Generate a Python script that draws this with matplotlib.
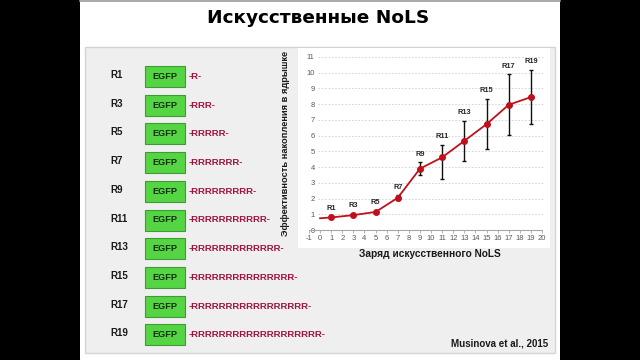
import matplotlib.pyplot as plt
from matplotlib.patches import Rectangle

plt.rcParams['font.family'] = ['Liberation Sans', 'DejaVu Sans']
plt.rcParams['axes.unicode_minus'] = False

# data
row_labels = ['R1', 'R3', 'R5', 'R7', 'R9', 'R11', 'R13', 'R15', 'R17', 'R19']
charges = [1, 3, 5, 7, 9, 11, 13, 15, 17, 19]
efficiency = [0.8, 0.95, 1.15, 2.05, 3.9, 4.62, 5.67, 6.73, 7.96, 8.45]
err_low = [0.05, 0.05, 0.08, 0.15, 0.4, 1.35, 1.27, 1.57, 1.95, 1.7]
err_high = [0.05, 0.05, 0.08, 0.15, 0.4, 0.8, 1.27, 1.58, 1.93, 1.7]
line_start = (0, 0.75)
x_ticks = list(range(-1, 21))
y_ticks = list(range(0, 12))

fig = plt.figure(figsize=(6.4, 3.6), dpi=100, facecolor='black')

# slide background in pixel coords
bg = fig.add_axes([0, 0, 1, 1])
bg.set_xlim(0, 640)
bg.set_ylim(360, 0)
bg.axis('off')
bg.add_patch(Rectangle((80, 0), 480, 360, facecolor='white', edgecolor='none'))
bg.plot([80, 560], [1, 1], color='#9a9a9a', lw=1.2)
bg.add_patch(Rectangle((85, 47), 470, 306, facecolor='#efefef', edgecolor='#d4d4d4', lw=1))
bg.add_patch(Rectangle((298, 48), 252, 200, facecolor='white', edgecolor='none'))

bg.text(318, 18, 'Искусственные NoLS', fontsize=13.3, fontweight='bold',
        family=['DejaVu Sans'], ha='center', va='center')

# constructs list
for i, lab in enumerate(row_labels):
    y = 75 + i * 28.7
    n = charges[i]
    bg.text(110, y, lab, fontsize=7, fontweight='bold', ha='left', va='center', color='#1a1a1a')
    bg.add_patch(Rectangle((145, y - 9), 40, 21, facecolor='#55d544', edgecolor='#3a9e30', lw=0.8))
    bg.text(165, y + 1.5, 'EGFP', fontsize=6.6, fontweight='bold', ha='center', va='center', color='#103010')
    bg.text(189, y + 1.5, '-' + 'R' * n + '-', fontsize=6.8, fontweight='bold',
            ha='left', va='center', color='#a0143c')

bg.text(286, 143, 'Эффективность накопления в ядрышке', rotation=90, fontsize=6.7,
        fontweight='bold', ha='center', va='center', color='#1a1a1a')
bg.text(430, 254, 'Заряд искусственного NoLS', fontsize=7.3, fontweight='bold',
        ha='center', va='center', color='#1a1a1a')
bg.text(548, 344, 'Musinova et al., 2015', fontsize=7, fontweight='bold',
        ha='right', va='center', color='#1a1a1a')

# chart
ax = fig.add_axes([300 / 640, (360 - 248) / 360, 248 / 640, 200 / 360])
ax.patch.set_alpha(0)
ax.set_xlim(-1.81, 20.54)
ax.set_ylim(-1.14, 11.57)
for s in ['top', 'right', 'left']:
    ax.spines[s].set_visible(False)
ax.spines['bottom'].set_position(('data', 0))
ax.spines['bottom'].set_color('#a6a6a6')
ax.spines['bottom'].set_linewidth(0.8)
ax.spines['bottom'].set_bounds(-1, 20)
ax.spines['left'].set_position(('data', -0.3))
ax.set_xticks(x_ticks)
ax.set_yticks(y_ticks)
ax.tick_params(axis='x', length=2, width=0.6, color='#a6a6a6', labelsize=5.5,
               labelcolor='#595959', pad=1.5)
ax.tick_params(axis='y', length=0, labelsize=5.5, labelcolor='#595959', pad=1.5)
ax.hlines(y_ticks[1:], -0.2, 20.2, colors='#cfcfcf', linestyles=(0, (2, 2)), lw=0.6)

ax.plot([line_start[0]] + charges, [line_start[1]] + efficiency, color='#c0101c', lw=1.3, zorder=3)
ax.errorbar(charges, efficiency, yerr=[err_low, err_high], fmt='none', ecolor='#111111',
            elinewidth=1, capsize=1.5, capthick=1, zorder=4)
ax.plot(charges, efficiency, 'o', color='#c0101c', ms=4, zorder=5)
for x, y, e, lab in zip(charges, efficiency, err_high, row_labels):
    ax.annotate(lab, (x, y + e), xytext=(0, 3.5), textcoords='offset points',
                ha='center', va='bottom', fontsize=5.3, fontweight='bold', color='#262626')

fig.savefig('out.png', dpi=100, facecolor='black')
